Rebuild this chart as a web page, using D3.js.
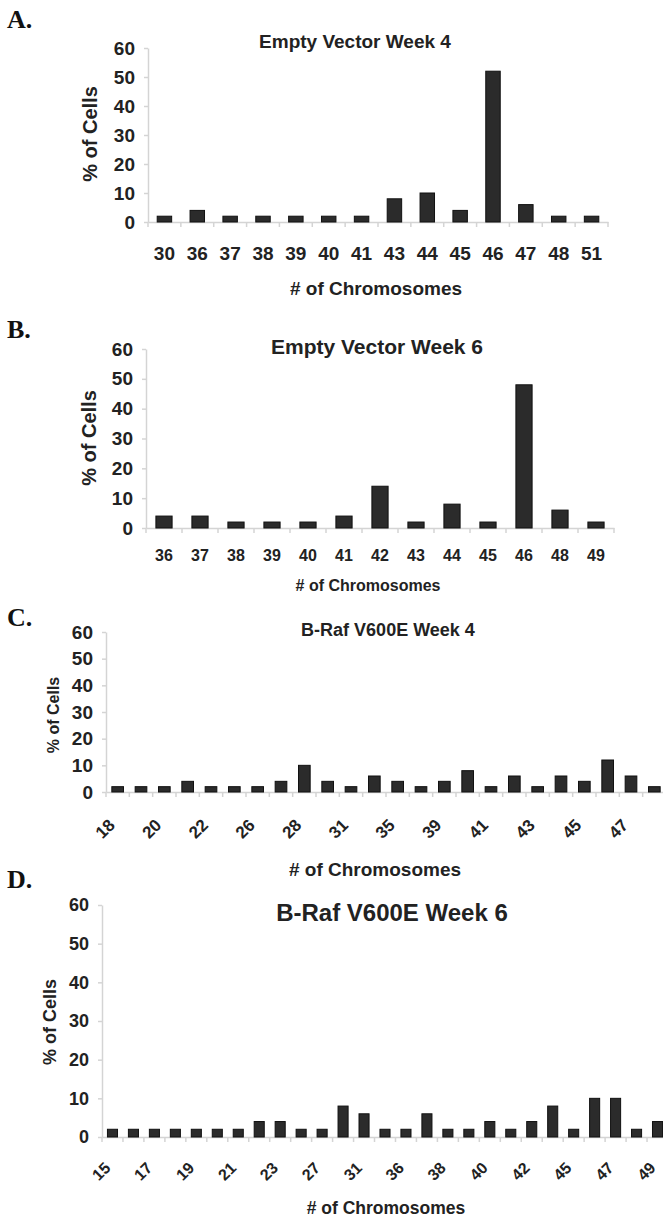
<!DOCTYPE html>
<html>
<head>
<meta charset="utf-8">
<script src="https://cdn.jsdelivr.net/npm/d3@7"></script>
<style>
  html, body { margin: 0; padding: 0; background: #fff; }
  svg { display: block; }
  .panel-letter { font-family: "Liberation Serif", "DejaVu Serif", serif; font-weight: bold; fill: #111; }
  .chart-text { font-family: "Liberation Sans", Arial, sans-serif; font-weight: bold; fill: #222; }
  .axis path, .axis line { stroke: #d4d4d4; stroke-width: 1.5; }
  .axis text { font-family: "Liberation Sans", Arial, sans-serif; font-weight: bold; fill: #222; }
  .bar { fill: #2b2b2b; stroke: #111; stroke-width: 1; }
</style>
</head>
<body>
<div class="wrapper"></div>
<script>
// Chart data
var chromosomesA = ["30", "36", "37", "38", "39", "40", "41", "43", "44", "45", "46", "47", "48", "51"];
var cellsA = [2, 4, 2, 2, 2, 2, 2, 8, 10, 4, 52, 6, 2, 2];

var chromosomesB = ["36", "37", "38", "39", "40", "41", "42", "43", "44", "45", "46", "48", "49"];
var cellsB = [4, 4, 2, 2, 2, 4, 14, 2, 8, 2, 48, 6, 2];

// only every other label is printed in C and D, the in-between ones are guesses
var chromosomesC = ["18", "19", "20", "21", "22", "24", "26", "27", "28", "29", "31", "33",
  "35", "37", "39", "40", "41", "42", "43", "44", "45", "46", "47", "48"];
var cellsC = [2, 2, 2, 4, 2, 2, 2, 4, 10, 4, 2, 6, 4, 2, 4, 8, 2, 6, 2, 6, 4, 12, 6, 2];

var chromosomesD = ["15", "16", "17", "18", "19", "20", "21", "22", "23", "25", "27", "30", "31", "34",
  "36", "37", "38", "39", "40", "41", "42", "43", "45", "46", "47", "48", "49"];
var cellsD = [2, 2, 2, 2, 2, 2, 2, 4, 4, 2, 2, 8, 6, 2, 2, 6, 2, 2, 4, 2, 4, 8, 2, 10, 10, 2, 4];

var percentTicks = [0, 10, 20, 30, 40, 50, 60];
var panelLetters = ["A.", "B.", "C.", "D."];
var panelTitles = ["Empty Vector Week 4", "Empty Vector Week 6", "B-Raf V600E Week 4", "B-Raf V600E Week 6"];
var xTitle = "# of Chromosomes";
var yTitle = "% of Cells";

var width = 663,
  height = 1218;

// Where each panel sits on the page
var layouts = [
  { x0: 148, x1: 608, yTop: 48, yZero: 222, padding: 0.56, rotate: false,
    letter: [7, 28, 26], title: [355, 48, 19], xTitle: [376, 295, 19], yTitle: [90, 134, 20],
    yFont: 19, xFont: 19, xPad: 25 },
  { x0: 146, x1: 614, yTop: 349, yZero: 528, padding: 0.55, rotate: false,
    letter: [7, 338, 26], title: [377, 354, 21], xTitle: [368, 591, 16], yTitle: [89, 438, 20],
    yFont: 19, xFont: 16, xPad: 22 },
  { x0: 106, x1: 666, yTop: 632, yZero: 792, padding: 0.5, rotate: true,
    letter: [7, 626, 26], title: [388, 636, 18], xTitle: [375, 876, 19], yTitle: [53, 715, 16],
    yFont: 19, xFont: 17, xPad: 0, rot: [-6, 30] },
  { x0: 102, x1: 668, yTop: 905, yZero: 1137, padding: 0.52, rotate: true,
    letter: [7, 888, 26], title: [392, 921, 24], xTitle: [386, 1214, 17.5], yTitle: [50, 1022, 18],
    yFont: 18, xFont: 16, xPad: 0, rot: [-5, 28] }
];

var panels = [
  { categories: chromosomesA, values: cellsA },
  { categories: chromosomesB, values: cellsB },
  { categories: chromosomesC, values: cellsC },
  { categories: chromosomesD, values: cellsD }
];

var svg = d3.select(".wrapper").append("svg")
  .attr("width", width)
  .attr("height", height);

panels.forEach(function(panel, i) {
  drawPanel(panel, layouts[i], i);
});

/**
 * Draws one histogram panel (letter, title, axes and bars).
 */
function drawPanel(panel, layout, i) {
  var g = svg.append("g").classed("panel", true);
  var rows = panel.categories.map(function(c, j) { return { chromosomes: c, cells: panel.values[j] }; });

  var xScale = d3.scaleBand()
    .domain(panel.categories)
    .range([layout.x0, layout.x1])
    .paddingInner(layout.padding)
    .paddingOuter(layout.padding / 2);

  var yScale = d3.scaleLinear()
    .domain([0, d3.max(percentTicks)])
    .range([layout.yZero, layout.yTop]);

  // Panel letter
  g.append("text")
    .attr("class", "panel-letter")
    .attr("x", layout.letter[0])
    .attr("y", layout.letter[1])
    .style("font-size", layout.letter[2] + "px")
    .text(panelLetters[i]);

  // Chart title
  g.append("text")
    .attr("class", "chart-text")
    .attr("x", layout.title[0])
    .attr("y", layout.title[1])
    .attr("text-anchor", "middle")
    .style("font-size", layout.title[2] + "px")
    .text(panelTitles[i]);

  // Value axis
  var yAxis = g.append("g")
    .attr("class", "axis y-axis")
    .attr("transform", "translate(" + layout.x0 + ",0)")
    .call(d3.axisLeft(yScale).tickValues(percentTicks).tickSize(4).tickPadding(9).tickSizeOuter(0));
  yAxis.selectAll("text").style("font-size", layout.yFont + "px");

  // Category axis, the labels
  var labelTicks = layout.rotate
    ? panel.categories.filter(function(d, j) { return j % 2 === 0; })
    : panel.categories;
  var xAxis = g.append("g")
    .attr("class", "axis x-axis")
    .attr("transform", "translate(0," + layout.yZero + ")")
    .call(d3.axisBottom(xScale).tickValues(labelTicks).tickSize(0).tickPadding(layout.xPad).tickSizeOuter(0));
  xAxis.selectAll("text").style("font-size", layout.xFont + "px");
  if (layout.rotate) {
    xAxis.selectAll("text")
      .attr("y", 0)
      .attr("dy", "0.35em")
      .attr("text-anchor", "end")
      .attr("transform", "translate(" + layout.rot[0] + "," + layout.rot[1] + ") rotate(-45)");
  }

  // Small ticks between the categories, Excel style
  var half = xScale.step() * layout.padding / 2;
  g.append("g")
    .attr("class", "axis")
    .selectAll("line")
    .data(panel.categories.concat(["end"]))
    .join("line")
    .attr("x1", function(d, j) { return j < panel.categories.length ? xScale(d) - half : layout.x1; })
    .attr("x2", function(d, j) { return j < panel.categories.length ? xScale(d) - half : layout.x1; })
    .attr("y1", layout.yZero)
    .attr("y2", layout.yZero + 5);

  // Bars
  g.append("g")
    .selectAll("rect")
    .data(rows)
    .join("rect")
    .attr("class", "bar")
    .attr("x", function(d) { return xScale(d.chromosomes); })
    .attr("y", function(d) { return yScale(d.cells); })
    .attr("width", xScale.bandwidth())
    .attr("height", function(d) { return yScale(0) - yScale(d.cells); });

  // Axis titles
  g.append("text")
    .attr("class", "chart-text")
    .attr("x", layout.xTitle[0])
    .attr("y", layout.xTitle[1])
    .attr("text-anchor", "middle")
    .style("font-size", layout.xTitle[2] + "px")
    .text(xTitle);

  g.append("text")
    .attr("class", "chart-text")
    .attr("transform", "translate(" + layout.yTitle[0] + "," + layout.yTitle[1] + ") rotate(-90)")
    .attr("text-anchor", "middle")
    .attr("dy", "0.35em")
    .style("font-size", layout.yTitle[2] + "px")
    .text(yTitle);
}
</script>
</body>
</html>
